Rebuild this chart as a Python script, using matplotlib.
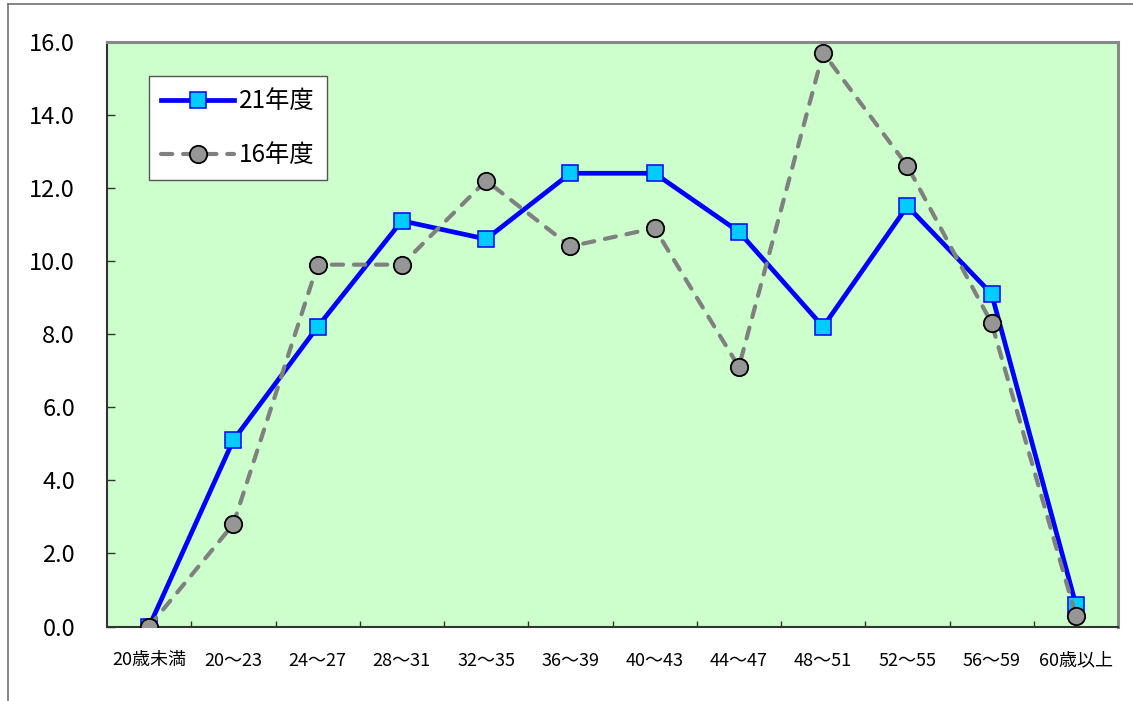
import matplotlib
matplotlib.use("Agg")
import matplotlib.pyplot as plt
from matplotlib.lines import Line2D
from matplotlib.ticker import FixedLocator, FormatStrFormatter

plt.rcParams['font.family'] = ['Noto Sans CJK JP', 'DejaVu Sans']

# age groups and shares (%) for each survey year
ages = ["20歳未満", "20～23", "24～27", "28～31", "32～35", "36～39",
        "40～43", "44～47", "48～51", "52～55", "56～59", "60歳以上"]
share_21 = [0.0, 5.1, 8.2, 11.1, 10.6, 12.4, 12.4, 10.8, 8.2, 11.5, 9.1, 0.6]
share_16 = [0.0, 2.8, 9.9, 9.9, 12.2, 10.4, 10.9, 7.1, 15.7, 12.6, 8.3, 0.3]
y_ticks = [0, 2, 4, 6, 8, 10, 12, 14, 16]

W, H = 1133, 701
fig = plt.figure(figsize=(W / 100, H / 100), dpi=100)
ax = fig.add_axes([107 / W, (H - 626.5) / H, 1011 / W, 584.8 / H])
ax.set_facecolor('#CCFFCC')

x = range(len(ages))
ax.plot(x, share_21, color='#0000FF', lw=3.4, marker='s', markersize=11,
        markerfacecolor='#00CCFF', markeredgecolor='#0000FF',
        markeredgewidth=1.1, label='21年度', zorder=3)
ax.plot(x, share_16, color='#808080', lw=3.0, linestyle=(0, (2.7, 2.6)),
        dash_capstyle='round', marker='o', markersize=12.5,
        markerfacecolor='#969696', markeredgecolor='black',
        markeredgewidth=1.3, label='16年度', zorder=4)

ax.set_xlim(-0.5, len(ages) - 0.5)
ax.set_ylim(0, 16)

# y axis: inward ticks, one decimal
ax.yaxis.set_major_locator(FixedLocator(y_ticks))
ax.yaxis.set_major_formatter(FormatStrFormatter('%.1f'))
ax.tick_params(axis='y', direction='in', length=6, width=1, color='#333333',
               labelsize=17, pad=23)

# x axis: labels at the centres, small ticks between groups
ax.set_xticks(list(x))
ax.set_xticklabels(ages)
ax.set_xticks([i + 0.5 for i in range(len(ages) - 1)], minor=True)
ax.tick_params(axis='x', which='major', length=0, labelsize=13, pad=18)
ax.tick_params(axis='x', which='minor', direction='in', length=4, width=1,
               color='#333333')

for side in ['left', 'bottom']:
    ax.spines[side].set_color('#333333')
    ax.spines[side].set_linewidth(1.5)
for side in ['top', 'right']:
    ax.spines[side].set_color('#888888')
    ax.spines[side].set_linewidth(2.2)

leg = ax.legend(loc='upper left', bbox_to_anchor=(0.0415, 0.9414),
                borderaxespad=0, fancybox=False, framealpha=1,
                edgecolor='#555555', fontsize=17.5, handlelength=3.0,
                handletextpad=0.2, labelspacing=1.15, borderpad=0.5,
                numpoints=1)
leg.get_frame().set_linewidth(1.0)

# outer chart frame (left and top edges)
fig.add_artist(Line2D([8 / W, 8 / W], [0, 1 - 4 / H], color='#707070',
                      lw=1.2, transform=fig.transFigure))
fig.add_artist(Line2D([8 / W, 1], [1 - 4 / H, 1 - 4 / H], color='#707070',
                      lw=1.2, transform=fig.transFigure))

fig.savefig('out.png', dpi=100)
